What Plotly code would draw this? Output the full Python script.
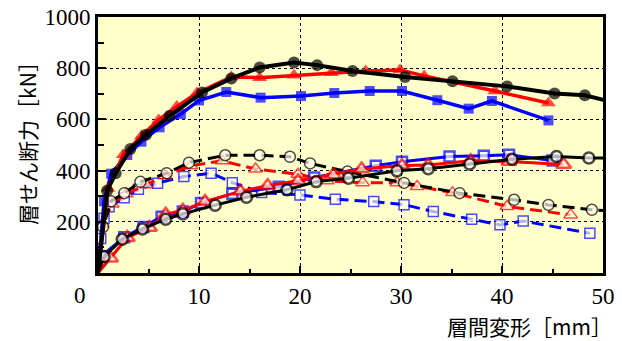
import plotly.graph_objects as go

# ---- data ----
# upper solid curves (filled markers)
blk_top_x = [0, 0.9, 1.75, 3.2, 4.75, 7.1, 10.3, 13.2, 16.0, 19.4, 21.7, 25.2, 30.4, 35.1, 40.5, 45.2, 48.2, 51.5]
blk_top_y = [0, 321, 390, 484, 540, 614, 705, 760, 803, 822, 812, 789, 766, 749, 729, 701, 694, 662]
red_top_x = [0, 1.0, 2.5, 4.3, 6.0, 7.8, 9.8, 13.2, 16.0, 19.4, 23.1, 26.5, 29.9, 32.3, 39.3, 44.6]
red_top_y = [0, 330, 462, 535, 598, 650, 703, 766, 763, 772, 782, 789, 793, 770, 711, 664]
blu_top_x = [0, 0.6, 1.3, 2.9, 4.3, 6.1, 8.2, 10.0, 12.7, 16.1, 20.1, 23.4, 26.9, 30.1, 33.6, 36.7, 39.0, 44.6]
blu_top_y = [0, 280, 388, 461, 513, 569, 621, 674, 707, 685, 691, 703, 711, 711, 675, 642, 672, 596]

# middle dashed curves
blk_mid_x = [0, 0.5, 1.3, 2.6, 4.2, 6.8, 9.0, 12.6, 16.0, 19.0, 21.0, 24.7, 30.3, 35.8, 41.2, 44.6, 48.9, 51.5]
blk_mid_y = [0, 180, 280, 312, 356, 390, 431, 460, 460, 454, 428, 396, 352, 312, 286, 266, 247, 240]
red_mid_x = [0, 0.4, 1.4, 2.8, 4.8, 6.6, 9.2, 12.3, 15.6, 19.8, 22.7, 26.2, 29.6, 31.6, 35.1, 40.5, 46.8]
red_mid_y = [0, 190, 270, 310, 345, 380, 419, 438, 406, 386, 360, 353, 353, 338, 314, 260, 227]
blu_mid_x = [0, 0.27, 0.6, 1.1, 2.6, 4.0, 5.9, 8.5, 11.2, 13.3, 16.2, 20.0, 23.5, 27.3, 30.3, 33.2, 37.0, 39.8, 42.1, 48.7]
blu_mid_y = [0, 135, 214, 259, 294, 327, 351, 377, 390, 353, 314, 305, 288, 279, 267, 240, 210, 188, 203, 155]

# lower solid curves (hollow markers)
blk_low_x = [0, 0.6, 2.4, 4.4, 6.7, 8.4, 11.6, 14.7, 18.7, 21.6, 24.8, 29.6, 32.7, 36.8, 41.0, 45.4, 48.6, 51.5]
blk_low_y = [0, 64, 132, 172, 210, 231, 265, 296, 325, 357, 370, 399, 407, 426, 444, 455, 449, 450]
red_low_x = [0, 1.25, 2.9, 5.1, 6.7, 8.4, 10.6, 14.1, 16.8, 19.8, 23.3, 26.1, 30.1, 32.7, 36.9, 40.7, 46.1]
red_low_y = [0, 58, 138, 178, 229, 245, 279, 319, 341, 360, 384, 406, 420, 422, 438, 436, 424]
blu_low_x = [0, 0.3, 2.6, 4.5, 6.3, 8.4, 10.2, 13.3, 17.9, 21.4, 27.5, 30.1, 34.8, 38.2, 40.7, 45.0]
blu_low_y = [0, 65, 140, 180, 220, 240, 273, 310, 337, 373, 419, 435, 455, 458, 462, 439]

x_ticks = [0, 10, 20, 30, 40, 50]
x_ticktext = ["", "10", "20", "30", "40", "50"]
y_ticks = [0, 200, 400, 600, 800, 1000]
y_ticktext = ["", "200", "400", "600", "800", "1000"]

BLACK, RED, BLUE = "#000000", "#FF0000", "#0000FF"
BG = "#FFFFCC"

fig = go.Figure()


def sizes(n, s):
    return [0] + [s] * (n - 1)


def add_mid(x, y, color, symbol, size):
    fig.add_trace(go.Scatter(
        x=x, y=y, mode="lines+markers",
        line=dict(color=color, width=3, dash="12px,6px"),
        marker=dict(symbol=symbol, size=sizes(len(x), size), color="#FFFFF0",
                    line=dict(color=color, width=1.5)),
        showlegend=False))


def add_low(x, y, color, symbol, size):
    fig.add_trace(go.Scatter(
        x=x, y=y, mode="lines+markers",
        line=dict(color=color, width=3),
        marker=dict(symbol=symbol, size=sizes(len(x), size), color="white",
                    line=dict(color=color, width=2.5)),
        showlegend=False))


def add_top(x, y, color, symbol, size, width):
    fig.add_trace(go.Scatter(
        x=x, y=y, mode="lines+markers",
        line=dict(color=color, width=width),
        marker=dict(symbol=symbol, size=sizes(len(x), size), color=color,
                    line=dict(width=0)),
        showlegend=False))


add_mid(blu_mid_x, blu_mid_y, BLUE, "square", 10)
add_mid(red_mid_x, red_mid_y, RED, "triangle-up", 12)
add_mid(blk_mid_x, blk_mid_y, BLACK, "circle", 11)

add_low(blu_low_x, blu_low_y, BLUE, "square", 10)
add_low(red_low_x, red_low_y, RED, "triangle-up", 13)
add_low(blk_low_x, blk_low_y, BLACK, "circle", 11)

add_top(blu_top_x, blu_top_y, BLUE, "square", 10, 3.5)
add_top(red_top_x, red_top_y, RED, "triangle-up", 13, 3.5)
add_top(blk_top_x, blk_top_y, BLACK, "circle", 12, 4)

tickfont = dict(family="Liberation Serif", size=23, color="black")
titlefont = dict(family="Noto Sans CJK JP", size=21, color="black")

fig.update_xaxes(
    range=[0, 50], tickvals=x_ticks, ticktext=x_ticktext,
    ticks="inside", ticklen=7, tickwidth=2, tickcolor="black",
    showline=True, linewidth=3, linecolor="black", mirror=True,
    showgrid=True, gridcolor="black", gridwidth=1, griddash="dot",
    zeroline=False, tickfont=tickfont, automargin=False, ticklabeloverflow="allow",
    minor=dict(dtick=5, ticks="inside", ticklen=4, tickwidth=2, tickcolor="black", showgrid=False),
)
fig.update_yaxes(
    range=[0, 1000], tickvals=y_ticks, ticktext=y_ticktext,
    ticks="inside", ticklen=8, tickwidth=2, tickcolor="black",
    showline=True, linewidth=3, linecolor="black", mirror=True,
    showgrid=True, gridcolor="black", gridwidth=1, griddash="dot",
    zeroline=False, tickfont=tickfont, automargin=False, ticklabeloverflow="allow",
    minor=dict(dtick=100, ticks="inside", ticklen=6, tickwidth=2, tickcolor="black", showgrid=False),
)

# the page body adds an 8px offset, so the figure is sized/margined to compensate
fig.update_layout(
    width=614, height=333,
    margin=dict(l=90, r=19, t=9, b=68),
    paper_bgcolor="white", plot_bgcolor=BG,
    shapes=[dict(type="rect", xref="paper", yref="paper", x0=0, x1=1, y0=-0.02, y1=0,
                 fillcolor=BG, line=dict(width=0), layer="below")],
    annotations=[
        dict(text="0", x=-0.035, y=-0.086, xref="paper", yref="paper",
             showarrow=False, font=tickfont, xanchor="center", yanchor="middle"),
        dict(text="層せん断力［kN］", x=-0.141, y=0.527, xref="paper", yref="paper",
             textangle=-90, showarrow=False, font=titlefont,
             xanchor="center", yanchor="middle"),
        dict(text="層間変形［mm］", x=1.022, y=-0.208, xref="paper", yref="paper",
             showarrow=False, font=titlefont, xanchor="right", yanchor="middle"),
    ],
)

fig.write_html("out.html")
